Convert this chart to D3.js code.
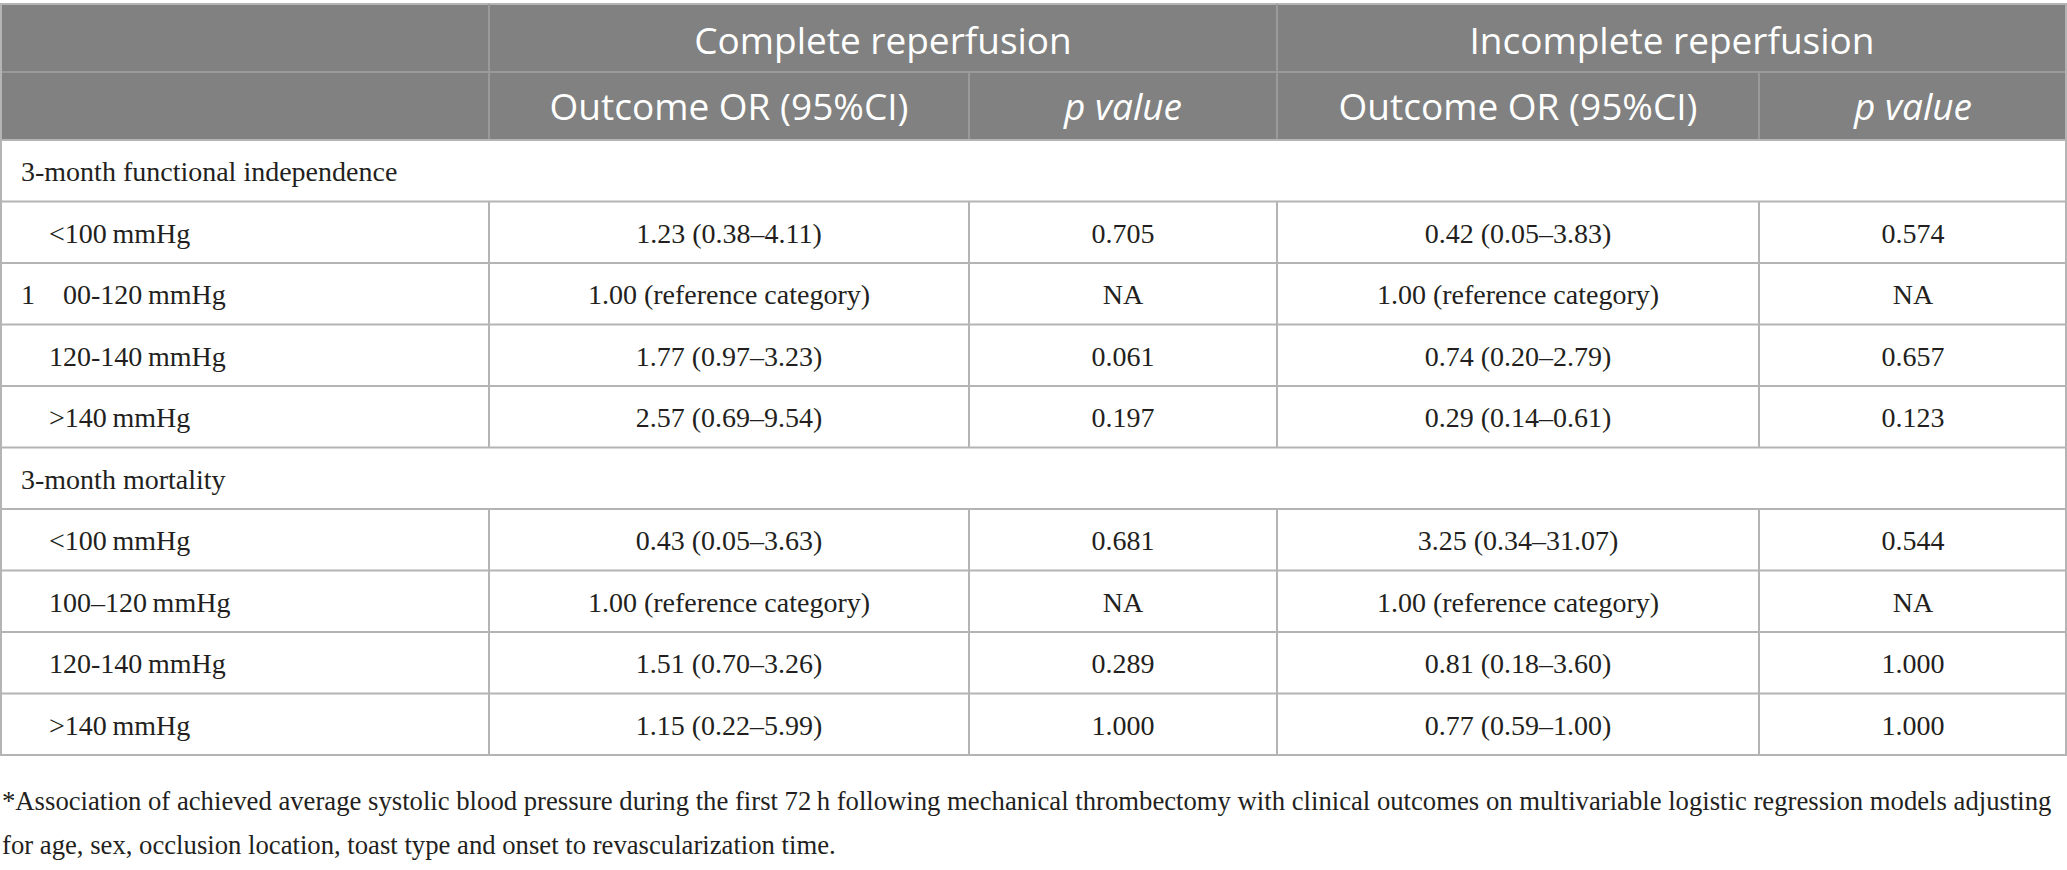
<!DOCTYPE html>
<meta charset="utf-8">
<script src="https://d3js.org/d3.v7.min.js"></script>
<style>
  body { margin: 0; background: #fff; }
  text { white-space: pre; }
</style>
<div id="my_table"></div>
<script>

// column groups and sub headers
var groups = ["Complete reperfusion", "Incomplete reperfusion"];
var subHeaders = ["Outcome OR (95%CI)", "p value", "Outcome OR (95%CI)", "p value"];

// row labels (section rows have no values)
var rowLabels = [
  "3-month functional independence",
  "    <100\u2009mmHg",
  "1    00-120\u2009mmHg",
  "    120-140\u2009mmHg",
  "    >140\u2009mmHg",
  "3-month mortality",
  "    <100\u2009mmHg",
  "    100\u2013120\u2009mmHg",
  "    120-140\u2009mmHg",
  "    >140\u2009mmHg"
];
var sectionRows = [0, 5];

var completeOR = [null, "1.23 (0.38\u20134.11)", "1.00 (reference category)", "1.77 (0.97\u20133.23)", "2.57 (0.69\u20139.54)",
                  null, "0.43 (0.05\u20133.63)", "1.00 (reference category)", "1.51 (0.70\u20133.26)", "1.15 (0.22\u20135.99)"];
var completeP = [null, "0.705", "NA", "0.061", "0.197", null, "0.681", "NA", "0.289", "1.000"];
var incompleteOR = [null, "0.42 (0.05\u20133.83)", "1.00 (reference category)", "0.74 (0.20\u20132.79)", "0.29 (0.14\u20130.61)",
                    null, "3.25 (0.34\u201331.07)", "1.00 (reference category)", "0.81 (0.18\u20133.60)", "0.77 (0.59\u20131.00)"];
var incompleteP = [null, "0.574", "NA", "0.657", "0.123", null, "0.544", "NA", "1.000", "1.000"];

var footnote = [
  "*Association of achieved average systolic blood pressure during the first 72\u2009h following mechanical thrombectomy with clinical outcomes on multivariable logistic regression models adjusting",
  "for age, sex, occlusion location, toast type and onset to revascularization time."
];

var width = 2067, height = 870;
var colEdges = [0, 489, 969, 1277, 1759, 2067];
var tableTop = 4, headH = 68, bodyTop = 140, bodyBottom = 755;

var svg = d3.select("#my_table")
  .append("svg")
    .attr("width", width)
    .attr("height", height);

var headFont = "'Open Sans', 'Noto Sans', sans-serif";
var bodyFont = "'Liberation Serif', 'DejaVu Serif', serif";
var lineColor = "#b4b4b4";
var headLine = "#9a9a9a";

// rows as a band scale
var y = d3.scaleBand()
  .domain(d3.range(rowLabels.length))
  .range([bodyTop, bodyBottom]);

// header background
svg.append("rect")
  .attr("x", 0).attr("y", tableTop)
  .attr("width", width).attr("height", bodyTop - tableTop)
  .attr("fill", "#808180");

// header lines
svg.append("line")
  .attr("x1", 0).attr("x2", width)
  .attr("y1", tableTop).attr("y2", tableTop)
  .attr("stroke", lineColor).attr("stroke-width", 2);
svg.append("line")
  .attr("x1", 0).attr("x2", width)
  .attr("y1", tableTop + headH).attr("y2", tableTop + headH)
  .attr("stroke", headLine).attr("stroke-width", 2);
[colEdges[1], colEdges[3]].forEach(function(x) {
  svg.append("line")
    .attr("x1", x).attr("x2", x)
    .attr("y1", tableTop).attr("y2", bodyTop)
    .attr("stroke", headLine).attr("stroke-width", 2);
});
[colEdges[2], colEdges[4]].forEach(function(x) {
  svg.append("line")
    .attr("x1", x).attr("x2", x)
    .attr("y1", tableTop + headH).attr("y2", bodyTop)
    .attr("stroke", headLine).attr("stroke-width", 2);
});

// group headers
svg.selectAll(".group")
  .data(groups)
  .enter()
  .append("text")
    .attr("x", function(d, i) { return (colEdges[1 + 2 * i] + colEdges[3 + 2 * i]) / 2; })
    .attr("y", tableTop + 50)
    .attr("text-anchor", "middle")
    .attr("font-family", headFont)
    .attr("font-size", 37)
    .attr("fill", "#fff")
    .text(function(d) { return d; });

// sub headers
svg.selectAll(".sub")
  .data(subHeaders)
  .enter()
  .append("text")
    .attr("x", function(d, i) { return (colEdges[1 + i] + colEdges[2 + i]) / 2; })
    .attr("y", tableTop + headH + 48)
    .attr("text-anchor", "middle")
    .attr("font-family", headFont)
    .attr("font-size", 37)
    .attr("font-style", function(d) { return d == "p value" ? "italic" : "normal"; })
    .attr("fill", "#fff")
    .text(function(d) { return d; });

// body horizontal lines
svg.selectAll(".hline")
  .data(d3.range(rowLabels.length + 1))
  .enter()
  .append("line")
    .attr("x1", 0).attr("x2", width)
    .attr("y1", function(d) { return d < rowLabels.length ? y(d) : bodyBottom; })
    .attr("y2", function(d) { return d < rowLabels.length ? y(d) : bodyBottom; })
    .attr("stroke", lineColor).attr("stroke-width", 2);

// body vertical lines, skipped on section rows
d3.range(rowLabels.length).forEach(function(r) {
  if (sectionRows.indexOf(r) >= 0) return;
  colEdges.slice(1, 5).forEach(function(x) {
    svg.append("line")
      .attr("x1", x).attr("x2", x)
      .attr("y1", y(r)).attr("y2", y(r) + y.bandwidth())
      .attr("stroke", lineColor).attr("stroke-width", 2);
  });
});

// outer left / right borders
[1, width - 1].forEach(function(x) {
  svg.append("line")
    .attr("x1", x).attr("x2", x)
    .attr("y1", tableTop).attr("y2", bodyBottom)
    .attr("stroke", lineColor).attr("stroke-width", 2);
});

// row labels
svg.selectAll(".label")
  .data(rowLabels)
  .enter()
  .append("text")
    .attr("x", 21)
    .attr("y", function(d, i) { return y(i) + 41; })
    .attr("font-family", bodyFont)
    .attr("font-size", 28)
    .attr("fill", "#231f20")
    .text(function(d) { return d; });

// value columns
var columns = [completeOR, completeP, incompleteOR, incompleteP];
columns.forEach(function(col, c) {
  var cells = col.map(function(v, i) { return {row: i, value: v}; })
    .filter(function(d) { return d.value != null; });
  svg.selectAll(".col" + c)
    .data(cells)
    .enter()
    .append("text")
      .attr("x", (colEdges[1 + c] + colEdges[2 + c]) / 2)
      .attr("y", function(d) { return y(d.row) + 41; })
      .attr("text-anchor", "middle")
      .attr("font-family", bodyFont)
      .attr("font-size", 28)
      .attr("fill", "#231f20")
      .text(function(d) { return d.value; });
});

// footnote, sized so the first line fills the width
var foot = svg.selectAll(".foot")
  .data(footnote)
  .enter()
  .append("text")
    .attr("x", 2)
    .attr("y", function(d, i) { return 810 + i * 44; })
    .attr("font-family", bodyFont)
    .attr("font-size", 28)
    .attr("fill", "#231f20")
    .text(function(d) { return d; });
var w0 = foot.node().getComputedTextLength();
foot.attr("font-size", 28 * 2051 / w0);

</script>
